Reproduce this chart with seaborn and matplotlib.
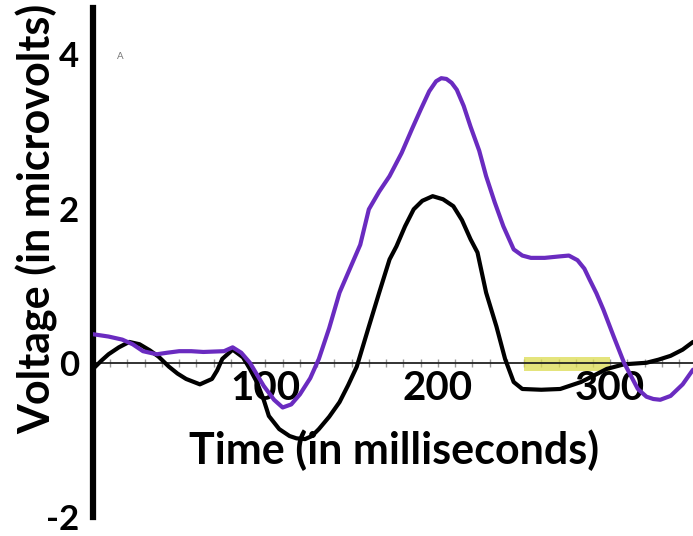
import numpy as np
import pandas as pd
import seaborn as sns
import matplotlib.pyplot as plt
from matplotlib.ticker import MultipleLocator, FixedLocator, NullFormatter

# Time (ms) and voltage (microvolts) for the two waveforms
purple_t = [0, 9, 17, 23, 29, 37, 43, 50, 57, 64, 76, 81, 86, 91, 99, 105, 110, 115, 120,
            126, 131, 137, 143, 149, 155, 160, 166, 172, 179, 185, 190, 195, 199, 202, 205,
            208, 211, 215, 219, 224, 228, 233, 238, 244, 249, 254, 262, 271, 276, 281, 285,
            288, 292, 296, 302, 308, 316, 321, 325, 329, 335, 342, 348]
purple_v = [0.37, 0.34, 0.30, 0.24, 0.15, 0.11, 0.13, 0.15, 0.15, 0.14, 0.15, 0.20, 0.13,
            0.0, -0.30, -0.48, -0.58, -0.54, -0.41, -0.20, 0.05, 0.45, 0.91, 1.22, 1.53,
            1.99, 2.22, 2.42, 2.72, 3.03, 3.28, 3.52, 3.65, 3.69, 3.68, 3.63, 3.54, 3.33,
            3.06, 2.75, 2.42, 2.08, 1.77, 1.47, 1.39, 1.36, 1.36, 1.38, 1.39, 1.33, 1.22,
            1.08, 0.90, 0.69, 0.34, 0.0, -0.34, -0.44, -0.47, -0.48, -0.43, -0.28, -0.09]

black_t = [0, 5, 9, 15, 21, 27, 33, 38, 44, 49, 54, 62, 69, 72, 75, 81, 87, 91, 95, 99,
           102, 108, 114, 118, 123, 127, 131, 137, 143, 148, 153, 160, 166, 172, 176, 181,
           186, 191, 197, 203, 209, 214, 219, 223, 228, 234, 239, 244, 249, 260, 271, 283,
           291, 298, 308, 321, 328, 335, 342, 348]
black_v = [-0.08, 0.03, 0.11, 0.20, 0.27, 0.24, 0.16, 0.08, -0.05, -0.14, -0.21, -0.28,
           -0.21, -0.10, 0.05, 0.17, 0.07, -0.08, -0.25, -0.48, -0.69, -0.86, -0.95, -0.98,
           -0.99, -0.95, -0.86, -0.70, -0.51, -0.29, -0.05, 0.47, 0.91, 1.34, 1.51, 1.77,
           1.99, 2.10, 2.16, 2.12, 2.03, 1.85, 1.60, 1.43, 0.91, 0.47, 0.05, -0.25, -0.34,
           -0.35, -0.34, -0.25, -0.16, -0.08, -0.02, 0.0, 0.04, 0.09, 0.17, 0.27]

# Highlighted analysis window
window = (250, 300)

y_ticks = [-2, 0, 2, 4]
x_ticks = [100, 200, 300]

df = pd.concat([
    pd.DataFrame({"t": black_t, "v": black_v, "cond": "black"}),
    pd.DataFrame({"t": purple_t, "v": purple_v, "cond": "purple"}),
])

sns.set_style("white")
plt.rcParams["font.family"] = ["Lato", "DejaVu Sans"]
plt.rcParams["text.color"] = "black"
plt.rcParams["axes.labelcolor"] = "black"
plt.rcParams["xtick.labelcolor"] = "black"
plt.rcParams["ytick.labelcolor"] = "black"

fig = plt.figure(figsize=(6.93, 5.36), dpi=100)
ax = fig.add_axes([93 / 693, 19 / 536, 600 / 693, 509 / 536])

ax.fill_between(window, -0.11, 0.07, color="#dcdc50", alpha=0.75, lw=0, zorder=1)

sns.lineplot(data=df, x="t", y="v", hue="cond",
             palette={"black": "black", "purple": "#6a2bc0"},
             estimator=None, sort=False, legend=False, linewidth=3.0, ax=ax, zorder=3)
for line in ax.lines:
    line.set_solid_joinstyle("round")
    line.set_solid_capstyle("round")

ax.set_xlim(0, 348)
ax.set_ylim(-2, 4.6)

for side in ("top", "right"):
    ax.spines[side].set_visible(False)
ax.spines["left"].set_linewidth(4.5)
ax.spines["left"].set_color("black")
ax.spines["bottom"].set_position(("data", 0))
ax.spines["bottom"].set_linewidth(1.3)
ax.spines["bottom"].set_color("#222222")
ax.spines["bottom"].set_zorder(2)

ax.set_yticks(y_ticks)
ax.set_yticklabels([str(v) for v in y_ticks], fontsize=25, fontweight="bold")
ax.tick_params(axis="y", direction="out", length=6, width=1.2, color="#999999", pad=4)

ax.xaxis.set_major_locator(FixedLocator(x_ticks))
ax.xaxis.set_minor_locator(MultipleLocator(10))
ax.xaxis.set_minor_formatter(NullFormatter())
ax.set_xticklabels([str(v) for v in x_ticks], fontsize=29, fontweight="bold")
ax.tick_params(axis="x", which="both", direction="inout", length=6, width=1.0,
               color="#999999", pad=2, bottom=True)
for lbl in ax.get_xticklabels():
    lbl.set_zorder(4)

ax.set_xlabel("Time (in milliseconds)", fontsize=31, fontweight="bold")
ax.xaxis.set_label_coords(0.502, 0.131)
ax.xaxis.label.set_va("center")
ax.set_ylabel("Voltage (in microvolts)", fontsize=31, fontweight="bold")
ax.yaxis.set_label_coords(-0.093, 0.585)
ax.yaxis.label.set_va("center")

ax.text(0.045, 0.905, "A", transform=ax.transAxes, fontsize=7, color="#777777",
        ha="center", va="center")

fig.savefig("out.png", dpi=100)
